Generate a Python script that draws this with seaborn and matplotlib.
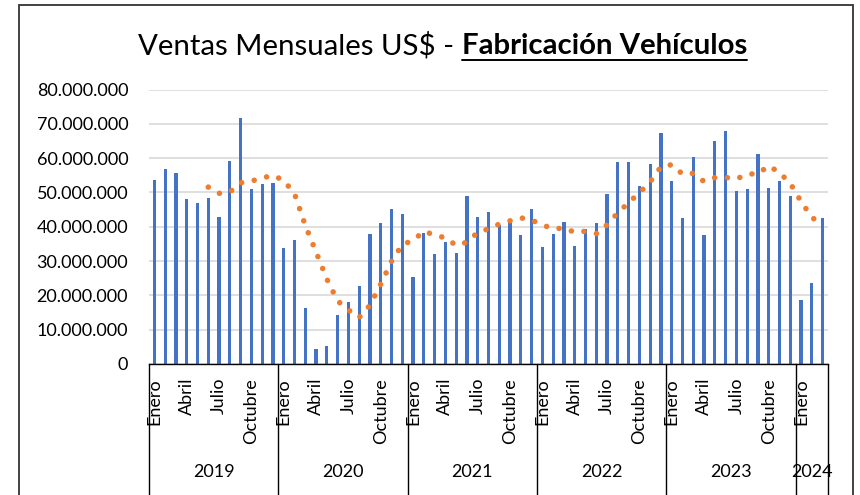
import numpy as np
import pandas as pd
import seaborn as sns
import matplotlib.pyplot as plt
from matplotlib.ticker import FuncFormatter
from matplotlib.patches import Rectangle
from matplotlib.lines import Line2D

# monthly sales (millions of US$)
v2019 = [53.6, 56.7, 55.6, 48.2, 46.9, 48.3, 42.7, 59.1, 71.8, 51.0, 52.5, 52.7]
v2020 = [33.9, 36.0, 16.3, 4.5, 5.3, 14.3, 18.2, 22.6, 37.9, 41.2, 45.1, 43.8]
v2021 = [25.5, 38.3, 32.0, 35.7, 32.3, 49.1, 42.7, 44.4, 40.5, 41.4, 37.5, 45.2]
v2022 = [34.1, 37.9, 41.4, 34.3, 39.2, 41.0, 49.6, 58.9, 59.0, 51.8, 58.2, 67.4]
v2023 = [53.2, 42.5, 60.3, 37.5, 64.9, 67.8, 50.5, 50.9, 61.2, 51.2, 53.2, 48.9]
v2024 = [18.6, 23.7, 42.5]

# 6-month moving average trend line (millions), from Jun 2019 to Mar 2024
trend = [51.55, 49.73, 50.13, 52.83, 53.30, 54.23, 54.97,
         53.50, 49.65, 40.40, 32.65, 24.78, 18.38, 15.77, 13.53, 17.13, 23.25, 29.88, 34.80,
         36.02, 38.63, 37.65, 36.73, 34.60, 35.48, 38.35, 39.37, 40.78, 41.73, 42.60, 41.95,
         40.52, 39.43, 39.58, 38.40, 38.68, 37.98, 40.57, 44.07, 47.00, 49.92, 53.08, 57.48,
         58.08, 55.35, 55.57, 53.18, 54.30, 54.37, 53.92, 55.32, 55.47, 57.75, 55.80, 52.65,
         47.33, 42.80, 40.20]

years = ["2019", "2020", "2021", "2022", "2023", "2024"]
months_shown = ["Enero", "Abril", "Julio", "Octubre"]

ventas = v2019 + v2020 + v2021 + v2022 + v2023 + v2024
df = pd.DataFrame({"mes": range(len(ventas)), "ventas": np.array(ventas) * 1e6})
tdf = pd.DataFrame({"mes": range(5, 5 + len(trend)), "media": np.array(trend) * 1e6})

sns.set_theme(style="white")
plt.rcParams["font.family"] = ["Lato", "DejaVu Sans"]

W, H = 860, 495
fig = plt.figure(figsize=(W / 100, H / 100), dpi=100)
ax = fig.add_axes([149 / W, 1 - 364 / H, (828 - 149) / W, (364 - 89.5) / H])

sns.barplot(data=df, x="mes", y="ventas", color="#4472C4", width=0.3,
            saturation=1, linewidth=0, ax=ax)
sns.lineplot(data=tdf, x="mes", y="media", color="#ED7D31", lw=4.0,
             linestyle=(0, (0.01, 2.3)), dash_capstyle="round", ax=ax)

ax.set_xlim(-0.5, len(ventas) - 0.5)
ax.set_ylim(0, 80e6)
ax.set_yticks(np.arange(0, 80e6 + 1, 10e6))
ax.yaxis.set_major_formatter(FuncFormatter(lambda v, p: f"{int(v):,}".replace(",", ".")))
ax.yaxis.grid(True, color="#D9D9D9", lw=1.2)
ax.set_axisbelow(True)
ax.set_xlabel("")
ax.set_ylabel("")

tick_pos = list(range(0, len(ventas), 3))
ax.set_xticks(tick_pos)
ax.set_xticklabels([months_shown[i % 4] for i in range(len(tick_pos))], rotation=90)
ax.tick_params(axis="x", length=0, pad=10, labelsize=13, colors="black")
ax.tick_params(axis="y", length=0, pad=15, labelsize=13, colors="black")

for s in ["top", "right", "left"]:
    ax.spines[s].set_visible(False)
ax.spines["bottom"].set_color("black")
ax.spines["bottom"].set_linewidth(1.0)

# year level of the category axis
tr = ax.get_xaxis_transform()
bounds = [-0.5, 11.5, 23.5, 35.5, 47.5, 59.5, len(ventas) - 0.5]
for b in bounds:
    ax.plot([b, b], [0, -0.55], transform=tr, color="black", lw=1.0, clip_on=False)
for i, y in enumerate(years):
    c = (bounds[i] + bounds[i + 1]) / 2
    ax.text(c, -0.393, y, transform=tr, ha="center", va="center", fontsize=13, color="black")

# chart frame
fig.patches.append(Rectangle((19 / W, -0.05), (853 - 19) / W, 1.05 - 5 / H,
                             transform=fig.transFigure, fill=False,
                             edgecolor="#333333", lw=1.3))

# title: normal part + bold underlined part
t1 = fig.text(138 / W, 1 - 54 / H, r"Ventas Mensuales US\$ - ", fontsize=21.2,
              ha="left", va="baseline", color="black")
fig.canvas.draw()
r = fig.canvas.get_renderer()
bb1 = t1.get_window_extent(r)
t2 = fig.text(bb1.x1 / W, 1 - 54 / H, "Fabricación Vehículos", fontsize=21.2,
              fontweight="bold", ha="left", va="baseline", color="black")
fig.canvas.draw()
bb2 = t2.get_window_extent(r)
uy = 1 - 59.5 / H
fig.lines.append(Line2D([bb2.x0 / W, bb2.x1 / W], [uy, uy], transform=fig.transFigure,
                        color="black", lw=1.4))

fig.savefig("out.png", dpi=100)
